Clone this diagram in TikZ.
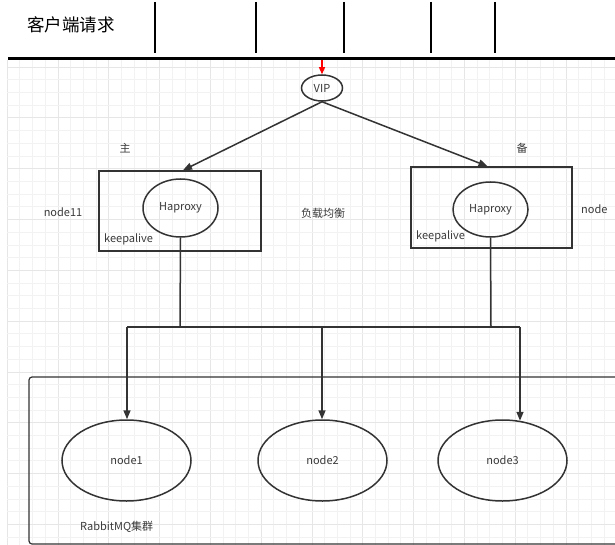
\documentclass[tikz,border=0pt]{standalone}
\usepackage{fontspec}
\setmainfont{Noto Sans CJK SC}
\usetikzlibrary{arrows.meta,shapes.geometric,calc}
\definecolor{ln}{HTML}{333333}
\definecolor{tx}{HTML}{3A3A3A}
\definecolor{gridminor}{HTML}{F2F2F2}
\definecolor{gridmajor}{HTML}{E6E6E6}
\begin{document}
\begin{tikzpicture}[x=1pt,y=-1pt,
  conn/.style={draw=ln, line width=1.5pt},
  arr/.style={conn, -{Triangle[length=9pt,width=7pt]}},
  ell/.style={ellipse, draw=ln, line width=1.5pt, inner sep=0pt, text=tx, font=\fontsize{11}{11}\selectfont},
  boxx/.style={draw=ln, line width=1.5pt, inner sep=0pt},
  lbl/.style={text=tx, font=\fontsize{11}{11}\selectfont, inner sep=0pt},
  bar/.style={draw=black, line width=2.5pt}]
\useasboundingbox (0,0) rectangle (615,545);
\fill[white] (0,0) rectangle (615,545);
% faint grid
\foreach \i in {0,...,48} {
  \pgfmathtruncatemacro{\m}{mod(\i,4)}
  \ifnum\m=0 \def\gc{gridmajor}\else\def\gc{gridminor}\fi
  \draw[\gc, line width=0.6pt] ({7+12.7*\i},60) -- ({7+12.7*\i},545);
}
\foreach \j in {0,...,37} {
  \pgfmathtruncatemacro{\m}{mod(\j,4)}
  \ifnum\m=0 \def\gc{gridmajor}\else\def\gc{gridminor}\fi
  \draw[\gc, line width=0.6pt] (7,{67+12.7*\j}) -- (615,{67+12.7*\j});
}
% header
\node[text=black, font=\fontsize{17.5}{17.5}\selectfont, inner sep=0pt] (title) at (71,25) {客户端请求};
\foreach \x in {155,256,344,431,495} \draw[bar] (\x,2) -- (\x,53);
\draw[bar] (8,58.5) -- (615,58.5);
\coordinate (top) at (322,60);
% VIP
\node[ell, minimum width=41pt, minimum height=26pt] (vip) at (322,88) {VIP};
\draw[red, line width=1.2pt, -{Triangle[length=7pt,width=6pt]}] (top) -- (vip.north);
% master/backup boxes
\node[boxx, minimum width=162pt, minimum height=80pt] (boxL) at (180,211) {};
\node[ell, minimum width=75pt, minimum height=58pt] (hapL) at (180.5,208) {Haproxy};
\node[boxx, minimum width=161pt, minimum height=81pt] (boxR) at (491.5,207.5) {};
\node[ell, minimum width=75pt, minimum height=55pt] (hapR) at (490.5,209.5) {Haproxy};
\node[lbl, anchor=west] (kaL) at (104,239) {keepalive};
\node[lbl, anchor=west] (kaR) at (416,236) {keepalive};
\node[lbl] (zhu) at (125,148) {主};
\node[lbl] (bei) at (522,148) {备};
\node[lbl] (n11) at (63,212) {node11};
\node[lbl] (lb) at (323,213) {负载均衡};
\node[lbl, anchor=west] (nodeR) at (581,209) {node};
\draw[arr] (vip.south) -- ($(boxL.north)+(3,0)$);
\draw[arr] (vip.south) -- ($(boxR.north)+(-4,0)$);
% cluster
\draw[draw=ln, line width=1.2pt, rounded corners=3pt] (29,377) rectangle (640,544);
\node[lbl, anchor=west] (rmq) at (80,527) {RabbitMQ集群};
\node[ell, minimum width=129pt, minimum height=81pt] (n1) at (126.5,460.5) {node1};
\node[ell, minimum width=129pt, minimum height=81pt] (n2) at (322.5,460.5) {node2};
\node[ell, minimum width=129pt, minimum height=81pt] (n3) at (502.5,460.5) {node3};
% distribution
\coordinate (jL) at (180,327);
\coordinate (jR) at (491,327);
\coordinate (j1) at (127,327);
\coordinate (j2) at (322,327);
\coordinate (j3) at (520,327);
\draw[conn] (hapL.south) -- (jL);
\draw[conn] (hapR.south) -- (jR);
\draw[conn] (j1) -- (j3);
\draw[arr] (j1) -- (n1.north -| j1);
\draw[arr] (j2) -- (n2.north -| j2);
\draw[arr] (j3) -- ($(n3.north -| j3)+(0,1.5)$);
\end{tikzpicture}
\end{document}
